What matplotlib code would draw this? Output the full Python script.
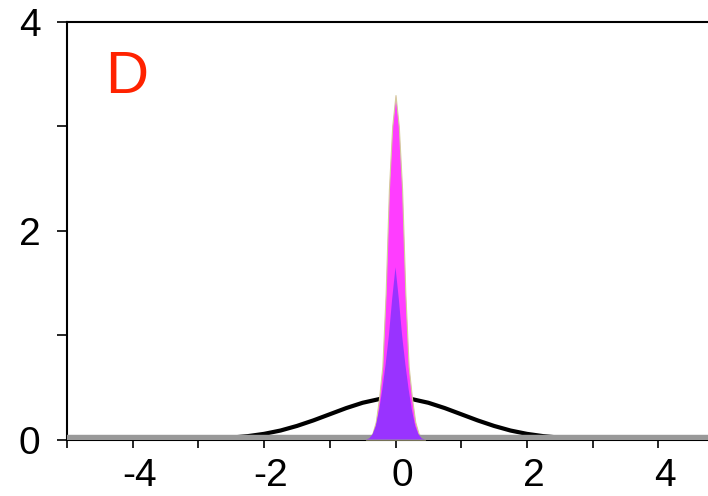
import matplotlib
matplotlib.use("Agg")
import matplotlib.pyplot as plt
from matplotlib.ticker import MultipleLocator
from matplotlib.transforms import ScaledTranslation

plt.rcParams['font.family'] = ['Liberation Sans', 'DejaVu Sans']
plt.rcParams['axes.unicode_minus'] = False

# wide curve
x_wide = [-5.0, -4.75, -4.5, -4.25, -4.0, -3.75, -3.5, -3.25, -3.0, -2.75,
          -2.5, -2.25, -2.0, -1.75, -1.5, -1.25, -1.0, -0.75, -0.5, -0.25,
          0.0, 0.25, 0.5, 0.75, 1.0, 1.25, 1.5, 1.75, 2.0, 2.25,
          2.5, 2.75, 3.0, 3.25, 3.5, 3.75, 4.0, 4.25, 4.5, 4.75, 5.0]
y_wide = [0.0, 0.0, 0.0, 0.0, 0.0, 0.0, 0.001, 0.002, 0.004, 0.009,
          0.018, 0.032, 0.054, 0.086, 0.130, 0.183, 0.242, 0.301, 0.352, 0.387,
          0.399, 0.387, 0.352, 0.301, 0.242, 0.183, 0.130, 0.086, 0.054, 0.032,
          0.018, 0.009, 0.004, 0.002, 0.001, 0.0, 0.0, 0.0, 0.0, 0.0, 0.0]

# narrow peaks
x_peak = [-0.45, -0.4, -0.35, -0.3, -0.25, -0.2, -0.15, -0.1, -0.05, 0.0,
          0.05, 0.1, 0.15, 0.2, 0.25, 0.3, 0.35, 0.4, 0.45]
y_magenta = [0.0, 0.015, 0.06, 0.17, 0.4, 0.7, 1.4, 2.4, 3.0, 3.3,
             3.0, 2.4, 1.4, 0.7, 0.4, 0.17, 0.06, 0.015, 0.0]
y_purple = [0.0, 0.01, 0.05, 0.13, 0.28, 0.48, 0.72, 1.0, 1.35, 1.65,
            1.35, 1.0, 0.72, 0.48, 0.28, 0.13, 0.05, 0.01, 0.0]

x_ticks = [-4, -2, 0, 2, 4]
y_ticks = [0, 2, 4]
panel = 'D'

fig = plt.figure(figsize=(7.08, 4.96), dpi=100)
ax = fig.add_axes([67 / 708, 56.5 / 496, 657 / 708, 417.5 / 496])

ax.plot(x_wide, y_wide, color='black', lw=3, zorder=2)
ax.fill_between(x_peak, y_magenta, 0, facecolor='#FF3DFF', edgecolor='#d4cc9a',
                lw=0.8, zorder=3)
ax.axhline(0, color='#999999', lw=7.5, zorder=4)
ax.fill_between(x_peak, y_purple, 0, facecolor='#9933FF', edgecolor='none',
                zorder=5)

ax.set_xlim(-5, 5)
ax.set_ylim(0, 4)
ax.set_xticks(x_ticks)
ax.set_yticks(y_ticks)
ax.xaxis.set_minor_locator(MultipleLocator(1))
ax.yaxis.set_minor_locator(MultipleLocator(1))
ax.tick_params(axis='x', which='both', direction='out', length=5.5, width=1.2,
               pad=8, labelsize=28)
ax.tick_params(axis='y', which='both', direction='out', length=7, width=1.2,
               pad=12, labelsize=28)

for sp in ['left', 'top', 'bottom']:
    ax.spines[sp].set_linewidth(1.5)
ax.spines['right'].set_visible(False)

# labels sit a bit to the right of their ticks in the reference
shift = ScaledTranslation(7 / 100, 0, fig.dpi_scale_trans)
for lab in ax.get_xticklabels():
    lab.set_transform(lab.get_transform() + shift)

fig.text(105 / 708, 1 - 93 / 496, panel, color='#FF2200', fontsize=43,
         ha='left', va='baseline')

fig.savefig('out.png', dpi=100)
